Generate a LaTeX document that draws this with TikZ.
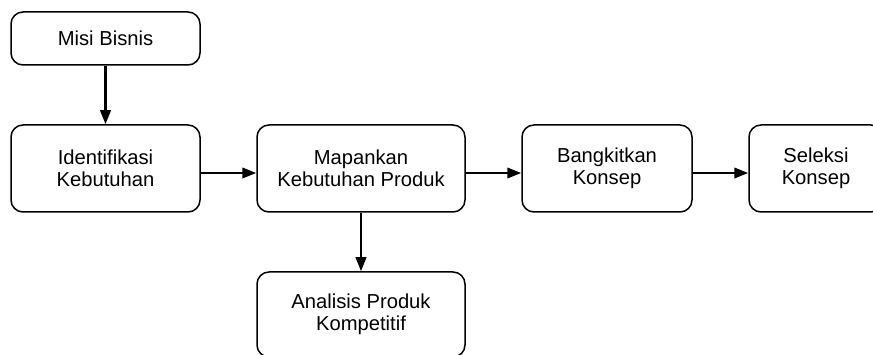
\documentclass[tikz,border=0pt]{standalone}
\usepackage{fontspec}
\setmainfont{Liberation Sans}
\usetikzlibrary{arrows.meta}
\begin{document}
\begin{tikzpicture}[x=1pt,y=-1pt,
  procbox/.style={draw=black, line width=1.5pt, rounded corners=12pt, align=center,
    font=\fontsize{20.2}{22.5}\selectfont, inner sep=0pt},
  flow/.style={line width=2.2pt, -{Triangle[length=14pt,width=10.5pt]}}]
\useasboundingbox (0,0) rectangle (873,355);
\clip (0,0) rectangle (873,355);
\node[procbox, minimum width=189pt, minimum height=53pt] (misi) at (105.5,38.5) {Misi Bisnis};
\node[procbox, minimum width=189pt, minimum height=87pt] (ident) at (105.5,168.5) {Identifikasi\\Kebutuhan};
\node[procbox, minimum width=208pt, minimum height=87pt] (mapan) at (361,168.5) {Mapankan\\Kebutuhan Produk};
\node[procbox, minimum width=170pt, minimum height=87pt] (bangk) at (607,168.5) {Bangkitkan\\Konsep};
\node[procbox, minimum width=134pt, minimum height=87pt] (selek) at (816,168.5) {Seleksi\\Konsep};
\node[procbox, minimum width=208pt, minimum height=85pt] (anal) at (361,314.5) {Analisis Produk\\Kompetitif};
\draw[flow] (misi.south) -- (ident.north);
\draw[flow] ([yshift=-4.5pt]ident.east) -- ([yshift=-4.5pt]mapan.west);
\draw[flow] ([yshift=-4.5pt]mapan.east) -- ([yshift=-4.5pt]bangk.west);
\draw[flow] ([yshift=-4.5pt]bangk.east) -- ([yshift=-4.5pt]selek.west);
\draw[flow] (mapan.south) -- (anal.north);
\end{tikzpicture}
\end{document}
